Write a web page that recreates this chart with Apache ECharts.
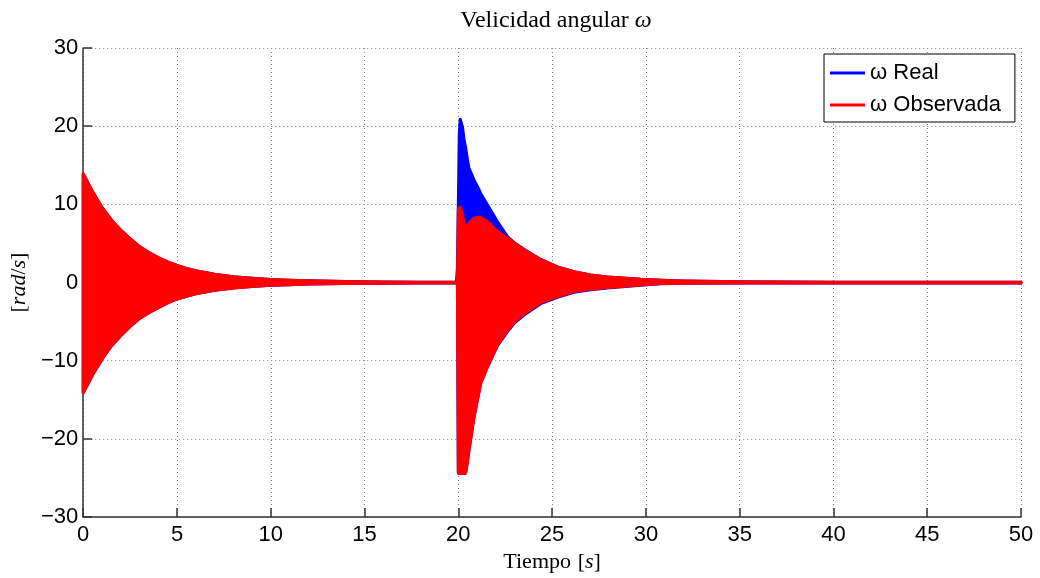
<!DOCTYPE html>
<html>
<head>
<meta charset="utf-8">
<script src="https://cdn.jsdelivr.net/npm/echarts@6/dist/echarts.min.js"></script>
<style>
  html, body { margin: 0; padding: 0; background: #fff; }
  #chart { width: 1040px; height: 578px; }
</style>
</head>
<body>
<div id="chart"></div>
<script>
// envelope of the oscillating signals (time in s, values in rad/s)
const timeS = [0, 0.5, 1, 1.5, 2, 2.5, 3, 3.5, 4, 4.5, 5, 5.5, 6, 7, 8, 9, 10, 11, 12, 14, 16, 18, 19.9, 19.95,
  20.0, 20.05, 20.1, 20.22, 20.3, 20.36, 20.4, 20.48, 20.57, 20.84, 21.1, 21.19, 21.55, 22.08, 22.61,
  23.0, 23.5, 24.39, 25.28, 26.16, 27.05, 27.94, 29.71, 30.8, 32, 35, 40, 45, 50]

const realHi = [13.9, 11.6, 9.6, 8.0, 6.7, 5.6, 4.6, 3.85, 3.2, 2.65, 2.2, 1.8, 1.5, 1.05, 0.75, 0.55, 0.4, 0.3, 0.22, 0.12, 0.08, 0.05, 0.05, 1.9,
  10.0, 19.0, 20.9, 19.9, 18.4, 17.6, 17.1, 15.8, 14.6, 13.1, 11.9, 11.4, 9.95, 7.8, 5.9,
  5.05, 4.25, 2.95, 2.0, 1.4, 0.98, 0.72, 0.42, 0.3, 0.2, 0.1, 0.05, 0.05, 0.05]
const realLo = [-14.1, -11.8, -9.8, -8.1, -6.8, -5.6, -4.6, -3.85, -3.2, -2.6, -2.1, -1.75, -1.45, -1.0, -0.7, -0.5, -0.35, -0.27, -0.2, -0.12, -0.08, -0.05, -0.05, -0.05,
  -24.4, -24.4, -24.4, -24.4, -24.4, -24.4, -24.2, -23.0, -21.4, -17.15, -14.0, -12.9, -10.8, -8.1, -6.3,
  -5.15, -4.15, -2.7, -1.9, -1.25, -0.93, -0.7, -0.33, -0.14, -0.1, -0.05, -0.05, -0.05, -0.05]

const obsHi = [13.9, 11.6, 9.6, 8.0, 6.7, 5.6, 4.6, 3.85, 3.2, 2.65, 2.2, 1.8, 1.5, 1.05, 0.75, 0.55, 0.4, 0.3, 0.22, 0.12, 0.08, 0.05, 0.05, 0.05,
  9.4, 9.6, 9.6, 8.7, 7.6, 7.0, 7.1, 7.3, 7.6, 8.25, 8.35, 8.3, 7.8, 6.55, 5.7,
  5.0, 4.2, 2.95, 2.0, 1.4, 0.98, 0.72, 0.42, 0.3, 0.2, 0.1, 0.05, 0.05, 0.05]
const obsLo = [-14.1, -11.8, -9.8, -8.1, -6.8, -5.6, -4.6, -3.85, -3.2, -2.6, -2.1, -1.75, -1.45, -1.0, -0.7, -0.5, -0.35, -0.27, -0.2, -0.12, -0.08, -0.05, -0.05, -0.05,
  -24.4, -24.4, -24.4, -24.4, -24.4, -24.4, -24.2, -23.0, -21.4, -17.15, -14.0, -12.9, -10.8, -8.05, -6.15,
  -5.0, -4.0, -2.55, -1.78, -1.14, -0.85, -0.64, -0.3, -0.13, -0.1, -0.05, -0.05, -0.05, -0.05]

const seriesNames = ['ω Real', 'ω Observada']
const xTicks = [0, 5, 10, 15, 20, 25, 30, 35, 40, 45, 50]
const yTicks = [-30, -20, -10, 0, 10, 20, 30]

const chart = echarts.init(document.getElementById('chart'), null, { renderer: 'canvas' })

function envelope(hi, lo, color) {
  return function (params, api) {
    if (params.dataIndex !== 0) return null
    const pts = []
    for (let i = 0; i < timeS.length; i++) pts.push(api.coord([timeS[i], hi[i]]))
    for (let i = timeS.length - 1; i >= 0; i--) pts.push(api.coord([timeS[i], lo[i]]))
    return {
      type: 'polygon',
      shape: { points: pts },
      style: { fill: color, stroke: color, lineWidth: 3, lineJoin: 'round' }
    }
  }
}

function bandSeries(name, hi, lo, color) {
  return {
    type: 'custom',
    name: name,
    itemStyle: { color: color },
    encode: { x: 0, y: [1, 2] },
    data: timeS.map((t, i) => [t, hi[i], lo[i]]),
    renderItem: envelope(hi, lo, color),
    silent: true
  }
}

const gridLine = { show: true, lineStyle: { color: '#808080', type: [1, 3], width: 1 } }
const axisLine = { show: true, onZero: false, lineStyle: { color: '#333', width: 1.5 } }
const axisTick = { show: true, inside: true, length: 9, lineStyle: { color: '#333', width: 1.5 } }

chart.setOption({
  animation: false,
  backgroundColor: '#fff',
  title: {
    text: 'Velicidad angular {i|ω}',
    left: 551, top: 4, textAlign: 'center',
    textStyle: {
      fontFamily: 'Liberation Serif', fontSize: 24, fontWeight: 'normal', color: '#000',
      rich: { i: { fontFamily: 'Liberation Serif', fontStyle: 'italic', fontSize: 24, color: '#000' } }
    }
  },
  legend: {
    orient: 'vertical',
    left: 824, top: 54,
    padding: [8, 14, 6, 6],
    itemGap: 10,
    itemWidth: 35, itemHeight: 3,
    icon: 'rect',
    borderColor: '#000', borderWidth: 1,
    backgroundColor: '#fff',
    data: seriesNames,
    textStyle: { fontFamily: 'Liberation Sans', fontSize: 22, lineHeight: 22, color: '#000' }
  },
  grid: { left: 82, right: 19, top: 48, bottom: 58, containLabel: false },
  xAxis: {
    type: 'value', min: 0, max: 50, interval: 5,
    name: '{n|Tiempo}  {n|[}{i|s}{n|]}',
    nameLocation: 'middle', nameGap: 29,
    nameTextStyle: {
      rich: {
        n: { fontFamily: 'Liberation Serif', fontSize: 22, color: '#000' },
        i: { fontFamily: 'Liberation Serif', fontStyle: 'italic', fontSize: 22, color: '#000' }
      }
    },
    axisLine: axisLine, axisTick: axisTick, splitLine: gridLine,
    axisLabel: {
      margin: 7, color: '#000', fontFamily: 'Liberation Sans', fontSize: 22,
      formatter: v => xTicks.includes(v) ? String(v) : ''
    }
  },
  yAxis: {
    type: 'value', min: -30, max: 30, interval: 10,
    name: '{n|[}{i|rad}{n|/}{i|s}{n|]}',
    nameLocation: 'middle', nameGap: 47, nameRotate: 90,
    nameTextStyle: {
      rich: {
        n: { fontFamily: 'Liberation Serif', fontSize: 22, color: '#000' },
        i: { fontFamily: 'Liberation Serif', fontStyle: 'italic', fontSize: 22, color: '#000' }
      }
    },
    axisLine: axisLine, axisTick: axisTick, splitLine: gridLine,
    axisLabel: {
      margin: 5, color: '#000', fontFamily: 'Liberation Sans', fontSize: 22,
      formatter: v => yTicks.includes(v) ? String(v).replace('-', '\u2212') : ''
    }
  },
  series: [
    bandSeries(seriesNames[0], realHi, realLo, '#0000ff'),
    bandSeries(seriesNames[1], obsHi, obsLo, '#ff0000')
  ]
})
</script>
</body>
</html>
